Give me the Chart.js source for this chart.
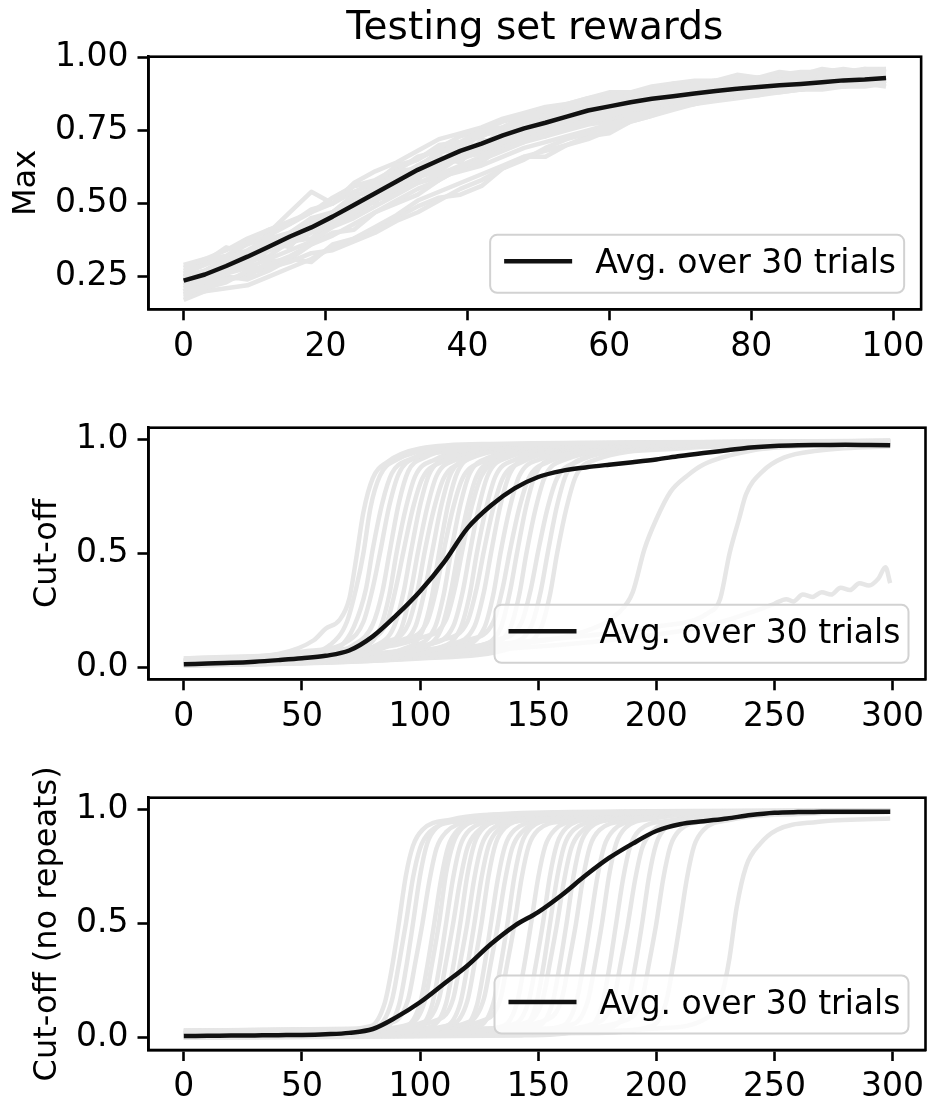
<!DOCTYPE html>
<html>
<head>
<meta charset="utf-8">
<script src="https://cdn.jsdelivr.net/npm/chart.js@4.4.0/dist/chart.umd.min.js"></script>
<style>
  body { margin: 0; background: #fff; }
  #wrap { position: relative; width: 932px; height: 1103px; }
  canvas { position: absolute; left: 0; }
</style>
</head>
<body>
<div id="wrap">
  <canvas id="max-chart" width="932" height="370" style="top:0"></canvas>
  <canvas id="cutoff-chart" width="932" height="370" style="top:370px"></canvas>
  <canvas id="norepeat-chart" width="932" height="363" style="top:740px"></canvas>
</div>
<script>
var FONT = "'DejaVu Sans', sans-serif";
var GRAY = "#e6e6e6";
var BLACK = "#111111";
var LEGEND_TEXT = "Avg. over 30 trials";

// ---- Max panel: episodes 0..99, sampled every 3 ----
var maxSteps = [0,3,6,9,12,15,18,21,24,27,30,33,36,39,42,45,48,51,54,57,60,63,66,69,72,75,78,81,84,87,90,93,96,99];
var maxAvg = [.236,.257,.286,.318,.352,.387,.418,.455,.495,.535,.575,.615,.648,.680,.705,.733,.757,.776,.797,.818,.832,.846,.858,.867,.876,.885,.892,.898,.904,.909,.915,.921,.924,.929];
var maxTrials = [
  [.28,.31,.32,.37,.41,.43,.48,.50,.56,.57,.63,.65,.70,.71,.75,.76,.80,.80,.84,.84,.87,.86,.89,.88,.91,.90,.92,.92,.94,.93,.95,.94,.96,.95],
  [.25,.27,.31,.34,.38,.40,.45,.47,.53,.54,.61,.62,.68,.68,.74,.74,.79,.78,.82,.82,.86,.85,.88,.87,.90,.89,.91,.90,.93,.92,.94,.93,.94,.94],
  [.21,.24,.27,.29,.34,.36,.40,.43,.47,.52,.55,.60,.62,.66,.69,.71,.74,.76,.78,.80,.81,.83,.84,.85,.86,.87,.88,.88,.89,.90,.90,.91,.91,.92],
  [.24,.25,.29,.31,.36,.38,.43,.44,.50,.53,.58,.61,.65,.67,.71,.72,.76,.77,.80,.81,.84,.84,.86,.86,.88,.88,.89,.89,.91,.90,.92,.92,.93,.93],
  [.19,.21,.23,.27,.29,.32,.36,.39,.43,.47,.51,.55,.58,.62,.65,.68,.71,.73,.76,.78,.80,.82,.83,.85,.86,.87,.88,.89,.89,.90,.91,.91,.92,.92],
  [.18,.20,.21,.22,.25,.28,.31,.35,.38,.42,.46,.51,.54,.57,.60,.63,.66,.68,.70,.72,.75,.78,.80,.83,.84,.86,.87,.88,.89,.89,.90,.91,.91,.92],
  [.26,.29,.32,.36,.39,.43,.47,.52,.56,.58,.62,.65,.69,.73,.75,.78,.80,.82,.84,.86,.87,.88,.89,.90,.91,.92,.92,.93,.93,.94,.94,.95,.95,.95],
  [.22,.23,.26,.28,.31,.34,.37,.42,.45,.49,.53,.57,.60,.63,.66,.69,.72,.74,.76,.78,.79,.81,.83,.84,.85,.86,.87,.88,.88,.89,.90,.90,.91,.91],
  [.23,.27,.28,.33,.35,.40,.42,.47,.49,.55,.57,.63,.64,.70,.70,.75,.76,.79,.80,.83,.83,.86,.86,.88,.88,.90,.89,.91,.90,.92,.91,.93,.92,.93],
  [.20,.22,.24,.26,.28,.30,.33,.34,.37,.40,.44,.47,.51,.55,.58,.62,.65,.69,.72,.74,.76,.79,.81,.83,.85,.86,.87,.88,.89,.90,.90,.91,.92,.92],
  [.29,.31,.34,.38,.41,.44,.47,.50,.54,.57,.61,.66,.68,.71,.73,.76,.78,.80,.82,.84,.85,.87,.88,.89,.90,.91,.91,.92,.93,.93,.94,.94,.95,.95],
  [.24,.26,.30,.32,.35,.39,.41,.46,.48,.52,.56,.59,.63,.65,.68,.72,.75,.77,.79,.81,.82,.84,.85,.86,.87,.88,.89,.90,.90,.91,.91,.92,.93,.93],
  [.22,.25,.28,.31,.34,.38,.41,.44,.48,.51,.54,.57,.59,.61,.63,.66,.69,.71,.73,.75,.77,.80,.82,.84,.85,.87,.88,.89,.90,.90,.91,.92,.92,.93],
  [.25,.27,.31,.33,.37,.40,.44,.47,.52,.56,.59,.63,.67,.70,.73,.76,.79,.81,.83,.85,.87,.88,.89,.91,.91,.92,.93,.93,.94,.95,.95,.96,.95,.96],
  [.20,.24,.26,.30,.32,.37,.38,.44,.46,.51,.54,.59,.61,.66,.67,.71,.73,.75,.77,.80,.80,.83,.83,.86,.85,.88,.87,.89,.89,.90,.90,.92,.91,.92],
  [.23,.26,.29,.32,.36,.39,.42,.45,.50,.54,.58,.61,.64,.66,.68,.70,.72,.73,.75,.77,.78,.80,.81,.83,.84,.85,.86,.87,.88,.89,.89,.90,.90,.91],
  [.27,.30,.35,.33,.40,.47,.54,.50,.57,.61,.64,.68,.72,.74,.76,.79,.81,.83,.84,.86,.88,.88,.90,.91,.92,.92,.94,.93,.95,.94,.96,.95,.96,.96],
  [.17,.20,.25,.24,.27,.31,.30,.36,.38,.41,.45,.49,.52,.53,.56,.62,.66,.66,.70,.73,.74,.78,.80,.82,.84,.86,.87,.87,.89,.89,.90,.90,.91,.90],
  [.26,.24,.31,.30,.37,.35,.45,.42,.52,.50,.60,.58,.66,.64,.72,.70,.78,.75,.82,.79,.85,.83,.87,.85,.89,.87,.91,.89,.92,.90,.93,.91,.94,.92],
  [.19,.22,.24,.25,.30,.31,.36,.40,.41,.47,.50,.53,.58,.62,.64,.70,.71,.75,.78,.79,.82,.83,.85,.86,.87,.89,.89,.90,.91,.91,.92,.93,.93,.94]
];
var maxXTicks = [0, 20, 40, 60, 80, 100];
var maxYTicks = [0.25, 0.50, 0.75, 1.00];

// ---- Cut-off panels: episodes 0..299 ----
var longSteps = [0,10,20,30,40,50,60,70,80,90,100,110,120,130,140,150,160,170,180,190,200,210,220,230,240,250,260,270,280,290,299];
var cutoffAvg = [.015,.018,.021,.026,.033,.041,.052,.075,.137,.23,.335,.46,.61,.71,.785,.835,.862,.877,.889,.9,.912,.927,.94,.952,.964,.971,.974,.975,.976,.975,.974];
// each trial is a list of [episode, reward]
var cutoffTrials = [
  [[0,.03],[40,.06],[55,.12],[60,.17],[66,.21],[70,.3],[73,.48],[76,.68],[80,.83],[86,.9],[100,.96],[130,.98],[299,.99]],
  [[0,.02],[45,.05],[62,.1],[69,.2],[73,.35],[76,.5],[79,.7],[83,.84],[90,.91],[110,.96],[150,.98],[299,.99]],
  [[0,.01],[50,.04],[66,.09],[72,.18],[77,.34],[80,.52],[84,.72],[88,.85],[95,.91],[115,.95],[160,.98],[299,.99]],
  [[0,.03],[50,.07],[70,.12],[76,.2],[80,.35],[83,.5],[87,.71],[91,.85],[98,.92],[120,.96],[299,.98]],
  [[0,.02],[55,.05],[72,.1],[80,.19],[84,.33],[87,.5],[91,.72],[95,.86],[102,.92],[125,.97],[299,.99]],
  [[0,.01],[55,.03],[75,.08],[83,.17],[87,.32],[90,.5],[94,.7],[98,.84],[106,.91],[130,.96],[299,.99]],
  [[0,.04],[60,.07],[78,.12],[86,.2],[90,.36],[93,.51],[97,.7],[101,.83],[109,.9],[135,.96],[299,.98]],
  [[0,.02],[60,.04],[80,.09],[89,.18],[93,.33],[96,.5],[100,.71],[104,.85],[112,.92],[140,.97],[299,.99]],
  [[0,.01],[60,.03],[82,.08],[92,.17],[96,.33],[99,.5],[103,.7],[107,.84],[115,.91],[140,.96],[299,.995]],
  [[0,.03],[60,.06],[85,.11],[95,.19],[99,.34],[102,.51],[106,.7],[110,.83],[118,.9],[145,.96],[299,.98]],
  [[0,.02],[65,.05],[88,.1],[98,.18],[102,.34],[105,.5],[109,.71],[113,.85],[121,.92],[150,.97],[299,.99]],
  [[0,.01],[65,.03],[90,.07],[101,.16],[105,.31],[108,.5],[112,.72],[116,.86],[124,.93],[155,.97],[299,.99]],
  [[0,.03],[70,.07],[92,.12],[103,.2],[107,.35],[110,.51],[114,.7],[118,.83],[126,.9],[155,.96],[299,.98]],
  [[0,.02],[70,.04],[95,.09],[106,.17],[110,.32],[113,.5],[117,.71],[121,.85],[129,.92],[160,.97],[299,.99]],
  [[0,.01],[70,.03],[98,.08],[109,.17],[113,.33],[116,.5],[120,.7],[124,.84],[132,.91],[160,.96],[299,.99]],
  [[0,.04],[75,.08],[100,.13],[111,.21],[115,.36],[118,.52],[122,.71],[126,.84],[134,.91],[165,.96],[299,.98]],
  [[0,.02],[75,.05],[103,.1],[114,.18],[118,.33],[121,.5],[125,.71],[129,.85],[137,.92],[170,.97],[299,.99]],
  [[0,.01],[80,.04],[106,.08],[117,.17],[121,.32],[124,.5],[128,.7],[132,.84],[140,.91],[170,.96],[299,.995]],
  [[0,.03],[80,.06],[109,.12],[120,.2],[124,.35],[127,.51],[131,.7],[135,.83],[143,.9],[175,.96],[299,.98]],
  [[0,.02],[85,.05],[112,.1],[123,.18],[127,.33],[130,.5],[134,.71],[138,.85],[146,.92],[180,.97],[299,.99]],
  [[0,.01],[85,.04],[116,.09],[127,.17],[131,.32],[134,.5],[138,.7],[142,.84],[150,.91],[185,.96],[299,.99]],
  [[0,.03],[90,.07],[120,.12],[131,.2],[135,.35],[138,.51],[142,.7],[146,.83],[154,.9],[190,.96],[299,.98]],
  [[0,.02],[90,.04],[123,.09],[134,.17],[138,.33],[141,.5],[145,.71],[149,.85],[157,.92],[190,.97],[299,.99]],
  [[0,.01],[95,.04],[127,.09],[138,.17],[142,.32],[145,.5],[149,.7],[153,.84],[161,.91],[195,.96],[299,.99]],
  [[0,.03],[95,.06],[132,.12],[143,.2],[147,.35],[150,.51],[154,.7],[158,.83],[166,.9],[200,.96],[299,.98]],
  [[0,.02],[100,.05],[136,.1],[147,.18],[151,.33],[154,.5],[158,.71],[162,.85],[170,.92],[205,.97],[299,.99]],
  [[0,.01],[100,.04],[140,.09],[151,.17],[155,.32],[158,.5],[162,.7],[166,.84],[174,.91],[210,.96],[299,.99]],
  [[0,.02],[60,.04],[120,.09],[170,.16],[184,.24],[190,.33],[195,.52],[200,.65],[206,.77],[213,.84],[220,.89],[240,.95],[270,.975],[299,.985]],
  [[0,.02],[80,.06],[150,.12],[200,.18],[222,.24],[227,.3],[231,.5],[235,.65],[238,.76],[245,.86],[254,.92],[268,.95],[299,.97]],
  [[0,.02],[100,.06],[180,.12],[220,.18],[245,.26],[250,.28],[255,.3],[258,.29],[262,.32],[266,.31],[270,.33],[274,.32],[278,.35],[282,.34],[286,.37],[290,.36],[294,.39],[297,.44],[299,.37]]
];

var noRepeatAvg = [.007,.008,.009,.010,.011,.012,.015,.021,.038,.09,.155,.235,.315,.41,.49,.55,.625,.71,.787,.85,.905,.935,.948,.96,.975,.985,.988,.989,.99,.99,.99];
var noRepeatTrials = [
  [[0,.02],[50,.025],[79,.05],[85,.15],[88,.3],[91,.5],[94,.71],[97,.84],[101,.91],[113,.955],[141,.98],[299,.99]],
  [[0,.01],[54,.02],[82,.05],[88,.16],[91,.32],[94,.5],[97,.7],[100,.83],[104,.9],[116,.95],[144,.98],[299,.99]],
  [[0,0],[57,.01],[85,.04],[91,.14],[94,.3],[97,.5],[100,.71],[103,.85],[107,.92],[119,.96],[147,.985],[299,.995]],
  [[0,.03],[61,.035],[89,.07],[95,.17],[98,.33],[101,.5],[104,.69],[107,.83],[111,.9],[123,.95],[151,.98],[299,.99]],
  [[0,.01],[66,.02],[94,.05],[100,.15],[103,.31],[106,.5],[109,.7],[112,.84],[116,.91],[128,.955],[156,.98],[299,.99]],
  [[0,.02],[68,.03],[96,.06],[102,.16],[105,.32],[108,.5],[111,.72],[114,.85],[118,.92],[130,.96],[158,.985],[299,.99]],
  [[0,0],[71,.01],[99,.04],[105,.14],[108,.3],[111,.5],[114,.7],[117,.84],[121,.91],[133,.95],[161,.98],[299,.99]],
  [[0,.02],[74,.03],[102,.07],[108,.17],[111,.33],[114,.5],[117,.69],[120,.83],[124,.9],[136,.955],[164,.98],[299,.99]],
  [[0,.01],[77,.015],[105,.05],[111,.15],[114,.31],[117,.5],[120,.71],[123,.85],[127,.92],[139,.96],[167,.985],[299,.995]],
  [[0,.03],[80,.04],[108,.08],[114,.17],[117,.33],[120,.5],[123,.7],[126,.84],[130,.91],[142,.95],[170,.98],[299,.99]],
  [[0,.01],[83,.02],[111,.05],[117,.15],[120,.31],[123,.5],[126,.7],[129,.84],[133,.91],[145,.955],[173,.98],[299,.99]],
  [[0,.02],[86,.03],[114,.06],[120,.16],[123,.32],[126,.5],[129,.71],[132,.85],[136,.92],[148,.96],[176,.985],[299,.99]],
  [[0,0],[90,.01],[118,.04],[124,.14],[127,.3],[130,.5],[133,.7],[136,.84],[140,.91],[152,.95],[180,.98],[299,.99]],
  [[0,.02],[93,.03],[121,.07],[127,.17],[130,.33],[133,.5],[136,.69],[139,.83],[143,.9],[155,.955],[183,.98],[299,.99]],
  [[0,.01],[97,.02],[125,.05],[131,.15],[134,.31],[137,.5],[140,.71],[143,.85],[147,.92],[159,.96],[187,.985],[299,.995]],
  [[0,.03],[100,.04],[128,.08],[134,.17],[137,.33],[140,.5],[143,.7],[146,.84],[150,.91],[162,.95],[190,.98],[299,.99]],
  [[0,.01],[107,.02],[135,.05],[141,.15],[144,.31],[147,.5],[150,.7],[153,.84],[157,.91],[169,.955],[197,.98],[299,.99]],
  [[0,.02],[112,.03],[140,.06],[146,.16],[149,.32],[152,.5],[155,.71],[158,.85],[162,.92],[174,.96],[202,.985],[299,.99]],
  [[0,0],[115,.01],[143,.04],[149,.14],[152,.3],[155,.5],[158,.7],[161,.84],[165,.91],[177,.95],[205,.98],[299,.99]],
  [[0,.02],[118,.03],[146,.07],[152,.17],[155,.33],[158,.5],[161,.69],[164,.83],[168,.9],[180,.955],[208,.98],[299,.99]],
  [[0,.01],[122,.02],[150,.05],[156,.15],[159,.31],[162,.5],[165,.71],[168,.85],[172,.92],[184,.96],[212,.985],[299,.995]],
  [[0,.03],[126,.04],[154,.08],[160,.17],[163,.33],[166,.5],[169,.7],[172,.84],[176,.91],[188,.95],[216,.98],[299,.99]],
  [[0,.01],[132,.02],[160,.05],[166,.15],[169,.31],[172,.5],[175,.7],[178,.84],[182,.91],[194,.955],[222,.98],[299,.99]],
  [[0,.02],[137,.03],[165,.06],[171,.16],[174,.32],[177,.5],[180,.71],[183,.85],[187,.92],[199,.96],[227,.985],[299,.99]],
  [[0,0],[143,.01],[171,.04],[177,.14],[180,.3],[183,.5],[186,.7],[189,.84],[193,.91],[205,.95],[233,.98],[299,.99]],
  [[0,.02],[148,.03],[176,.07],[182,.17],[185,.33],[188,.5],[191,.69],[194,.83],[198,.9],[210,.955],[238,.98],[299,.99]],
  [[0,.01],[154,.02],[182,.05],[188,.15],[191,.31],[194,.5],[197,.71],[200,.85],[204,.92],[216,.96],[244,.985],[299,.995]],
  [[0,.03],[160,.04],[188,.08],[194,.17],[197,.33],[200,.5],[203,.7],[206,.84],[210,.91],[222,.95],[250,.98],[299,.99]],
  [[0,.01],[170,.02],[198,.05],[204,.15],[207,.31],[210,.5],[213,.7],[216,.84],[220,.91],[232,.955],[260,.98],[299,.99]],
  [[0,.01],[150,.02],[200,.04],[222,.09],[228,.2],[231,.35],[234,.57],[238,.75],[244,.85],[251,.91],[268,.945],[299,.96]]
];
var longXTicks = [0, 50, 100, 150, 200, 250, 300];
var cutoffYTicks = [0.0, 0.5, 1.0];

// frame on all four sides plus the lower-right legend box
var panelDecor = {
  id: "panelDecor",
  afterDatasetsDraw: function (chart) {
    var a = chart.chartArea;
    var ctx = chart.ctx;
    ctx.save();
    ctx.strokeStyle = "#000";
    ctx.lineWidth = 2.6;
    ctx.strokeRect(a.left, a.top, a.right - a.left, a.bottom - a.top);

    var w = 414, h = 58, r = 7;
    var x = a.right - 17 - w, y = a.bottom - 16.5 - h;
    ctx.beginPath();
    ctx.moveTo(x + r, y);
    ctx.lineTo(x + w - r, y);
    ctx.arcTo(x + w, y, x + w, y + r, r);
    ctx.lineTo(x + w, y + h - r);
    ctx.arcTo(x + w, y + h, x + w - r, y + h, r);
    ctx.lineTo(x + r, y + h);
    ctx.arcTo(x, y + h, x, y + h - r, r);
    ctx.lineTo(x, y + r);
    ctx.arcTo(x, y, x + r, y, r);
    ctx.closePath();
    ctx.fillStyle = "rgba(255,255,255,0.8)";
    ctx.fill();
    ctx.strokeStyle = "#d2d2d2";
    ctx.lineWidth = 2;
    ctx.stroke();

    var ly = y + h / 2 - 2.5;
    ctx.beginPath();
    ctx.moveTo(x + 14, ly);
    ctx.lineTo(x + 82, ly);
    ctx.strokeStyle = BLACK;
    ctx.lineWidth = 4.5;
    ctx.stroke();

    ctx.fillStyle = "#000";
    ctx.font = "33px " + FONT;
    ctx.textBaseline = "alphabetic";
    ctx.textAlign = "left";
    ctx.fillText(LEGEND_TEXT, x + 105, y + h - 20);
    ctx.restore();
  }
};

function axisStyle() {
  return {
    grid: { drawOnChartArea: false, drawTicks: true, tickLength: 11, tickWidth: 2.6, tickColor: "#000" },
    border: { display: true, color: "#000", width: 2.6 }
  };
}

function drawPanel(id, p) {
  var datasets = [{
    label: LEGEND_TEXT,
    data: p.steps.map(function (x, i) { return { x: x, y: p.avg[i] }; }),
    borderColor: BLACK,
    borderWidth: 4.5,
    pointRadius: 0,
    borderJoinStyle: "round",
    cubicInterpolationMode: p.smooth ? "monotone" : "default",
    order: 0
  }];
  p.trials.forEach(function (t) {
    datasets.push({
      data: t,
      borderColor: GRAY,
      borderWidth: 4.5,
      pointRadius: 0,
      borderJoinStyle: "round",
      cubicInterpolationMode: p.smooth ? "monotone" : "default",
      order: 1
    });
  });

  var xs = axisStyle(), ys = axisStyle();
  new Chart(document.getElementById(id), {
    type: "line",
    data: { datasets: datasets },
    options: {
      responsive: false,
      animation: false,
      events: [],
      layout: { padding: { left: 0, right: 6.5, top: p.padTop, bottom: 0 } },
      plugins: {
        legend: { display: false },
        tooltip: { enabled: false },
        title: p.title ? {
          display: true,
          text: p.title,
          fullSize: false,
          color: "#000",
          font: { family: FONT, size: 39, weight: "normal" },
          padding: { top: 5, bottom: 4.9 }
        } : { display: false }
      },
      scales: {
        x: {
          type: "linear",
          min: p.xMin,
          max: p.xMax,
          afterBuildTicks: function (s) { s.ticks = p.xTicks.map(function (v) { return { value: v }; }); },
          afterFit: function (s) { s.height = p.xHeight; },
          ticks: {
            autoSkip: false, maxRotation: 0, padding: 7, color: "#000",
            font: { family: FONT, size: 33 },
            callback: function (v) { return String(v); }
          },
          grid: xs.grid,
          border: xs.border
        },
        y: {
          type: "linear",
          min: p.yMin,
          max: p.yMax,
          afterBuildTicks: function (s) { s.ticks = p.yTicks.map(function (v) { return { value: v }; }); },
          afterFit: function (s) { s.width = 148.5; },
          ticks: {
            autoSkip: false, padding: 9, color: "#000",
            font: { family: FONT, size: 33 },
            callback: function (v) { return v.toFixed(p.digits); }
          },
          title: {
            display: true,
            text: p.yLabel,
            color: "#000",
            font: { family: FONT, size: 32 },
            padding: { top: p.yTitlePad, bottom: 0 }
          },
          grid: ys.grid,
          border: ys.border
        }
      }
    },
    plugins: [panelDecor]
  });
}

drawPanel("max-chart", {
  title: "Testing set rewards",
  steps: maxSteps,
  avg: maxAvg,
  trials: maxTrials.map(function (t) {
    return t.map(function (y, i) { return { x: maxSteps[i], y: y }; });
  }),
  smooth: false,
  xMin: -4.95, xMax: 103.95, yMin: 0.138, yMax: 1.002,
  xTicks: maxXTicks, yTicks: maxYTicks, digits: 2,
  yLabel: "Max", yTitlePad: 7,
  padTop: 0, xHeight: 60.7
});

function pairsToPoints(t) {
  return t.map(function (p) { return { x: p[0], y: p[1] }; });
}

drawPanel("cutoff-chart", {
  steps: longSteps,
  avg: cutoffAvg,
  trials: cutoffTrials.map(pairsToPoints),
  smooth: true,
  xMin: -14.95, xMax: 313.95, yMin: -0.051, yMax: 1.051,
  xTicks: longXTicks, yTicks: cutoffYTicks, digits: 1,
  yLabel: "Cut-off", yTitlePad: 28,
  padTop: 57.7, xHeight: 60.7
});

drawPanel("norepeat-chart", {
  steps: longSteps,
  avg: noRepeatAvg,
  trials: noRepeatTrials.map(pairsToPoints),
  smooth: true,
  xMin: -14.95, xMax: 313.95, yMin: -0.054, yMax: 1.051,
  xTicks: longXTicks, yTicks: cutoffYTicks, digits: 1,
  yLabel: "Cut-off (no repeats)", yTitlePad: 28,
  padTop: 57.7, xHeight: 53
});
</script>
</body>
</html>
